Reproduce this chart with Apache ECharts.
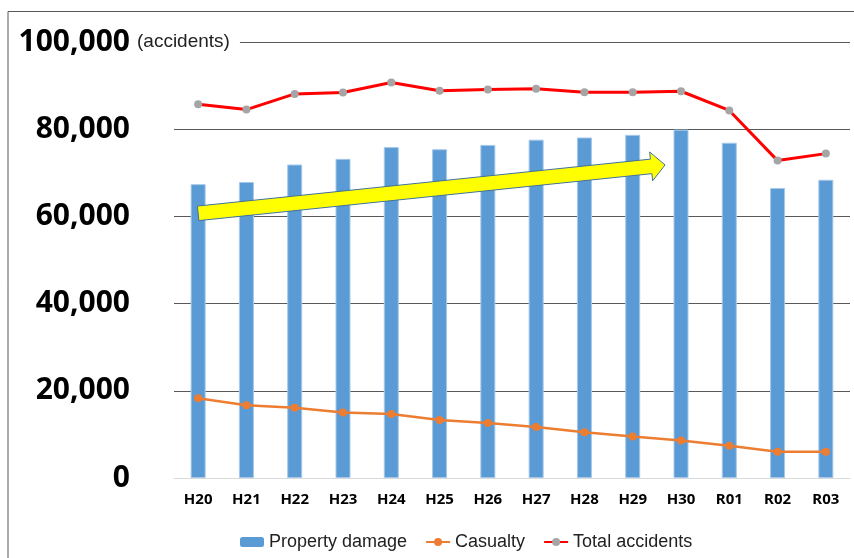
<!DOCTYPE html>
<html>
<head>
<meta charset="utf-8">
<script src="https://cdn.jsdelivr.net/npm/echarts@6/dist/echarts.min.js"></script>
<style>
  html, body { margin: 0; padding: 0; background: #fff; }
  #chart-container { width: 854px; height: 558px; }
</style>
</head>
<body>
<div id="chart-container"></div>
<script>
var dom = document.getElementById("chart-container");
var myChart = echarts.init(dom, null, { renderer: "canvas" });

const years = ["H20", "H21", "H22", "H23", "H24", "H25", "H26", "H27", "H28", "H29", "H30", "R01", "R02", "R03"];
const propertyDamage = [67400, 67900, 71900, 73200, 75900, 75400, 76400, 77600, 78100, 78700, 79900, 76900, 66500, 68400];
const casualty = [18300, 16700, 16100, 15000, 14700, 13300, 12600, 11700, 10500, 9500, 8600, 7400, 6000, 6000];
const totalAccidents = [85700, 84500, 88100, 88400, 90700, 88800, 89100, 89300, 88500, 88500, 88700, 84300, 72800, 74400];

// trend arrow, in data units: [category index, value]
const arrowStart = [0, 60700];
const arrowEnd = [9.67, 71800];

var option = {
  animation: false,
  grid: { left: 174, right: 4, top: 42, bottom: 80 },
  xAxis: {
    type: "category",
    data: years,
    axisTick: { show: false },
    axisLine: { lineStyle: { color: "#d9d9d9", width: 1 } },
    axisLabel: {
      margin: 14,
      color: "#000",
      fontFamily: "Noto Sans",
      fontWeight: "bold",
      fontSize: 15,
    },
  },
  yAxis: {
    type: "value",
    min: 0,
    max: 100000,
    interval: 20000,
    axisLine: { show: false },
    axisTick: { show: false },
    axisLabel: {
      margin: 44,
      color: "#000",
      fontFamily: "Noto Sans",
      fontWeight: "bold",
      fontSize: 30,
      formatter: function (v) {
        return v.toLocaleString("en-US");
      },
    },
    splitLine: { showMinLine: false, lineStyle: { color: "#595959", width: 1 } },
  },
  legend: {
    left: 235,
    top: 528,
    itemGap: 18,
    itemWidth: 24,
    itemHeight: 10,
    textStyle: { fontFamily: "Liberation Sans", fontSize: 18, color: "#222" },
    data: [
      { name: "Property damage", itemStyle: { borderWidth: 0 } },
      { name: "Casualty", itemStyle: { color: "#ed7d31" } },
      { name: "Total accidents", itemStyle: { color: "#a5a5a5" } },
    ],
  },
  series: [
    {
      name: "Property damage",
      type: "bar",
      data: propertyDamage,
      barWidth: 15,
      itemStyle: { color: "#5b9bd5", borderColor: "#a6c8ea", borderWidth: 1 },
    },
    {
      name: "Casualty",
      type: "line",
      data: casualty,
      symbol: "circle",
      symbolSize: 8,
      lineStyle: { color: "#ed7d31", width: 2.5 },
      itemStyle: { color: "#ed7d31" },
      z: 3,
    },
    {
      name: "Total accidents",
      type: "line",
      data: totalAccidents,
      symbol: "circle",
      symbolSize: 8,
      lineStyle: { color: "#ff0000", width: 3 },
      itemStyle: { color: "#a5a5a5" },
      z: 3,
    },
  ],
};

myChart.setOption(option);

// category axis rounds fractional indices, so interpolate between neighbours
function toPixel(pt) {
  const i0 = Math.floor(pt[0]);
  const f = pt[0] - i0;
  const a = myChart.convertToPixel({ gridIndex: 0 }, [i0, pt[1]]);
  const b = myChart.convertToPixel({ gridIndex: 0 }, [i0 + 1, pt[1]]);
  return [a[0] + (b[0] - a[0]) * f, a[1]];
}

// build the arrow polygon from pixel end points
function arrowPoints(p0, p1) {
  const dx = p1[0] - p0[0], dy = p1[1] - p0[1];
  const len = Math.sqrt(dx * dx + dy * dy);
  const ux = dx / len, uy = dy / len;
  const nx = -uy, ny = ux;
  const hw = 7.3, hh = 14.5, hl = 14;
  const bx = p1[0] - ux * hl, by = p1[1] - uy * hl;
  return [
    [p0[0] + nx * hw, p0[1] + ny * hw],
    [bx + nx * hw, by + ny * hw],
    [bx + nx * hh, by + ny * hh],
    [p1[0], p1[1]],
    [bx - nx * hh, by - ny * hh],
    [bx - nx * hw, by - ny * hw],
    [p0[0] - nx * hw, p0[1] - ny * hw],
  ];
}

const pStart = toPixel(arrowStart);
const pEnd = toPixel(arrowEnd);

myChart.setOption({
  graphic: [
    {
      type: "polyline",
      shape: { points: [[8, 558], [8, 11.5], [854, 11.5]] },
      style: { stroke: "#595959", lineWidth: 1, fill: null },
      silent: true,
    },
    {
      type: "text",
      left: 137,
      top: 32,
      z: 50,
      style: {
        text: "(accidents)",
        fill: "#222",
        font: '19px "Liberation Sans"',
        backgroundColor: "#fff",
        padding: [0, 10, 0, 0],
      },
    },
    {
      type: "polygon",
      z: 60,
      shape: { points: arrowPoints(pStart, pEnd) },
      style: { fill: "#ffff00", stroke: "#41719c", lineWidth: 1 },
    },
  ],
});

window.addEventListener("resize", myChart.resize);
</script>
</body>
</html>
